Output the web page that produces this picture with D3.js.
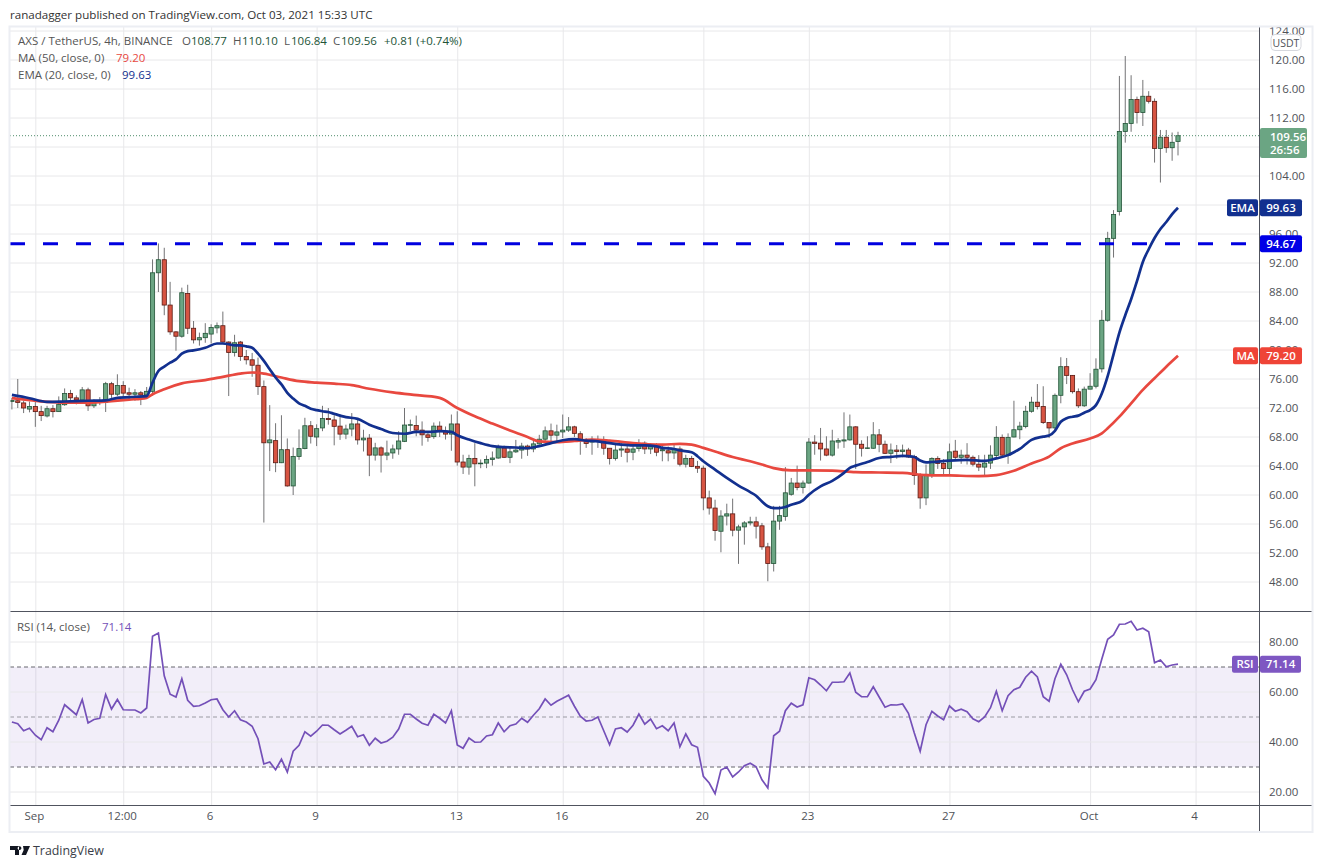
<!DOCTYPE html>
<html><head><meta charset="utf-8">
<script src="https://cdnjs.cloudflare.com/ajax/libs/d3/7.8.5/d3.min.js"></script>
<style>
html,body{margin:0;padding:0;background:#fff;overflow:hidden}
svg{display:block}
text{font-family:"Open Sans","Noto Sans",sans-serif}
</style></head><body>
<svg id="c" width="1323" height="868"></svg>
<script>
const open=[72.9,73,72.7,71.85,72.2,71.5,70.9,71.9,71.5,72.45,
74,73.4,73.1,74.5,72.3,72.9,72.75,75.35,73.9,75.1,
74.1,73.9,74.1,73.8,74.3,90.65,92.45,86.2,82.5,81.9,
87.8,83,81.4,81.7,82.2,83.05,83.35,81.1,79.65,81.1,
79.1,78.65,77.9,74.95,67.2,67.5,64.45,66.25,61.25,65.3,
66.4,69.55,68,69.25,70.55,70.35,69.5,68.4,69.1,69.8,
67.6,67.85,65.5,66.5,65.5,65.8,66.35,67.4,69.65,69.6,
68.95,68.3,68.05,69.5,68.8,68.4,69.8,64.55,63.85,65.05,
64.3,64.4,64.9,65.1,66.5,65.2,65.95,66.2,66.75,66.35,
67.05,67.7,68.85,68.25,68.7,68.95,69.4,68.45,67.55,67.3,
67.45,67.45,66.45,65.05,66.2,66.35,65.9,66.4,67.15,66.35,
66.75,66.1,66.1,65.8,66.35,64.25,65.05,63.95,63.7,59.6,
58.2,55,57.1,57.4,55.15,55.6,56.15,56.3,55.75,52.85,
50.55,56.4,57.05,60.1,61.65,61.05,61.65,67.3,67.15,66.35,
65.5,67.3,67.45,67.6,69.4,67,66.45,66.45,68.3,67,
65.75,66.2,66,66.2,65.3,62.75,59.6,62.85,65.05,64.35,
63.65,66.05,65.2,65.5,65.2,64.25,63.85,64.4,65.45,67.95,
65.5,68,69,69.45,71.55,72.8,72.2,70,69.25,73.75,
77.7,76.5,74.25,72.3,74.6,75,77.4,84.1,95.4,99.1,
110.15,111.25,114.55,112.75,115,114.3,107.8,109.35,107.9,108.77];
const close=[73.05,72.75,72,72.2,71.5,70.95,71.9,71.5,72.5,74,
73.4,73.1,74.5,72.3,72.75,73,75.35,73.9,75.1,74.05,
73.9,74.1,73.8,74.3,90.65,92.45,86.2,82.5,81.9,87.9,
83,81.4,81.7,82.3,83.1,83.35,81.1,79.65,81,79.1,
78.65,77.9,74.95,67.2,67.6,64.45,66.25,61.25,65.3,66.4,
69.55,68.1,69.15,70.55,70.4,69.47,68.4,69.1,69.8,67.6,
67.85,65.5,66.5,65.5,65.8,66.35,67.45,69.65,69.7,68.95,
68.3,67.95,69.5,68.8,68.4,69.8,64.55,63.85,65.05,64.3,
64.4,64.9,65.1,66.5,65.2,65.95,66.2,66.75,66.35,67.05,
67.7,68.85,68.25,68.7,68.95,69.4,68.5,67.55,67.1,67.45,
67.4,66.45,65.05,66.2,66.35,65.9,66.35,67.1,66.35,66.75,
65.9,66.25,65.8,66.35,64.25,65.05,63.95,63.7,59.6,58.2,
55.1,57.1,57.4,55.15,55.6,56.15,56.3,55.7,52.85,50.55,
56.4,57.15,60.3,61.65,61.05,61.65,67.3,67.1,66.35,65.5,
67.45,67.5,67.6,69.4,67,66.45,66.5,68.3,67,65.75,
66.2,66,66.2,65.25,62.7,59.6,62.85,65.05,64.35,63.65,
65.95,65.2,65.5,65.2,64.25,63.85,64.4,65.5,67.95,65.5,
67.95,69,69.5,71.55,72.8,72.2,70,69.25,73.75,77.7,
76.5,74.25,72.3,74.6,75,77.35,84.1,95.4,98.7,110.15,
111.25,114.55,112.75,115,114.3,107.8,109.35,107.9,108.65,109.56];
const high=[73.4,76,73,72.9,72.85,72.3,72.3,72.4,73.6,74.7,
74.5,73.75,74.9,74.8,73.2,73.5,75.6,75.6,76.65,75.7,
74.8,74.6,74.35,74.9,92.5,94.7,94.1,89.4,82.6,88.6,
89,84,82.4,83.7,83.55,83.8,85.3,81.2,82.1,81.25,
80,79.6,78.95,75.8,72.4,69.9,71,67.8,66.55,69.05,
70.65,70.2,69.75,72.3,72,71.1,71.1,69.7,71.3,70.4,
69,68.4,67.2,66.7,67.5,66.95,68.8,72,70.4,70.95,
70.15,68.55,70,70.15,69.45,71.1,71.55,65.55,65.55,67.15,
64.9,65.45,66,66.95,66.8,66.7,67.6,67.2,66.95,67.6,
68.3,69.45,69.85,69.7,71.1,70.75,69.55,68.8,67.85,68.1,
68.2,68.1,66.45,67,67.2,67,66.95,67.7,67.4,67.15,
67.15,66.95,66.7,66.95,66.7,65.55,65.4,64.7,64.05,60.6,
59.35,57.9,58.8,59.5,55.9,56.4,57,57,56.15,53.4,
58.5,58.5,63.85,62.35,64.05,62,67.85,68.25,69.25,68.1,
69,67.85,71.4,71.1,69.5,67.55,68.1,70.05,69.1,67.5,
67.1,66.9,66.95,66.5,65.55,63,64.2,65.2,65.35,64.95,
67.1,67.6,66.25,67.15,65.45,65.5,65.55,66.85,69.5,68.35,
68.5,73,70.1,72.3,73.55,75.3,75,70,74,79,
78.9,76.55,74.7,74.95,76.8,78.85,85.5,96.3,99.3,117.8,
120.55,117.9,114.95,117.25,115.7,114.7,110.35,110.35,110,110.1];
const low=[71.8,72,71.3,71.4,69.4,70.2,70.7,70.7,71.5,72.3,
73,72.5,73,71.6,72,72.4,71.45,73.4,73.65,73.4,
73.2,73,72.4,73.4,73.7,88,84.8,82.1,79.9,81.7,
82.2,80.9,80.6,81,80.9,82.3,80.9,73.65,79.1,78.5,
78,76.3,73.8,56.2,63.3,63.15,64.4,61.15,60,64.85,
66.3,67.1,66.75,68.8,69.7,66.85,67.6,67.7,68.1,66.95,
66,62.6,64.75,63.1,64.8,65,65.55,67.3,68.8,68.1,
66.8,67.35,67.75,68,67.65,66.1,64.05,62.9,62.8,61.2,
63.7,63.7,64.05,65,65.1,64.4,65.8,65,65.4,65.9,
66.95,67.4,67.4,67.3,67.85,68.7,68,65.55,66.5,65.55,
66.5,65.55,64.2,64.75,65.25,64.5,64.8,66,65.65,65.65,
65.35,64.65,64.65,64.95,63.95,63.8,63.85,63.05,57.9,57.3,
53.7,52.1,55.8,54.3,50.5,53.15,55.8,54,52.45,48.1,
49.45,55.2,56.45,59.9,60.65,60.2,61.55,65.55,64.75,65.35,
65.3,66.4,66.5,67.5,63.6,65.3,66.35,66.35,65.9,65.65,
64.4,65,65.2,65.1,61.4,58.1,58.6,62.35,63.6,62.8,
62.8,64.95,64.3,64.2,63.95,63.3,62.6,63.6,65.2,65.2,
64.3,67.95,67.7,69.2,71.35,71.8,69.8,67.85,68.9,72.65,
75.3,74,72,72.15,74.6,74.7,76.9,83.9,92.75,98.55,
108.6,110.1,111.25,110.9,114,105.85,103.1,107.2,106.1,106.84];

const emaBars=[0,3,6,9,13,16,18,21,23,24,25,26,27,28,29,30,31,33,35,36,37,38,39,40,41,42,43,44,45,46,47,48,49,50,51,52,53,54,
55,57,59,61,63,65,67,69,71,73,75,76,78,80,82,84,86,88,90,92,94,96,98,100,102,104,106,108,110,
111,113,114,116,117,118,120,122,124,126,127,128,129,130,131,132,133,135,136,138,140,142,143,144,146,148,150,152,153,154,155,156,157,160,163,
166,168,170,171,172,173,174,176,177,178,179,180,181,182,183,184,185,186,187,188,189,190,191,192,193,194,195,196,197,198,199];
const emaValues=[73.8,73.35,72.85,72.9,73,73.05,73.4,73.55,73.65,75.5,77.1,77.7,78.25,78.7,79.5,79.85,79.95,80.3,80.9,80.9,80.8,80.65,80.65,80.5,80.3,79.5,78.5,77.35,76.2,75.25,74.1,73.3,72.65,72.3,71.9,71.7,71.55,71.45,
71.2,70.75,70.5,69.7,69.1,68.55,68.45,68.7,68.7,68.8,68.7,68.25,67.65,67.15,66.75,66.6,66.55,66.45,66.75,67.15,67.55,67.7,67.5,67.4,67.15,66.95,66.85,66.85,66.7,
66.5,66.35,66.15,65.9,65.35,64.65,63.5,62.35,61.3,60.4,59.9,59.1,58.45,58.2,58.2,58.35,58.65,59.25,60.05,61.2,61.95,63.05,63.75,64.05,64.55,65.1,65.25,65.4,65.35,65.25,64.75,64.5,64.55,64.75,64.85,
64.7,65.05,65.5,65.9,66.35,67,67.6,68.05,68.2,68.85,70.1,70.6,70.8,70.95,71.35,71.7,72.4,74,76.4,79.4,82.4,84.8,87,89.5,92.15,93.9,95.45,96.7,97.65,98.75,99.63];

const maBars=[0,6,9,13,17,20,23,24,26,29,33,36,39,41,43,46,49,52,55,58,61,65,70,73,76,79,82,85,88,90,93,96,99,102,106,110,
111,114,116,118,120,123,126,128,130,133,136,140,144,148,152,156,160,165,168,171,174,177,179,181,184,186,187,189,191,193,195,197,199];
const maValues=[73.35,72.85,72.75,72.75,72.95,73.15,73.4,73.9,74.6,75.4,75.85,76.3,76.75,76.9,76.75,76.2,75.7,75.5,75.35,75.15,74.65,74.15,73.7,73.4,72,70.85,69.85,68.9,68,67.4,67.3,67.45,67.65,67.5,67.15,66.95,
66.95,67.05,66.95,66.5,66,65.25,64.65,64.2,63.7,63.4,63.4,63.35,63.15,63.1,63.05,62.75,62.7,62.6,62.75,63.35,64.35,65.3,66.45,67.1,67.8,68.5,69.2,70.8,72.65,74.5,76.1,77.7,79.2];

const rsi=[48,47.3,44.5,45.5,42.7,40.9,45.7,44.1,48.7,54.9,
52.9,50.9,57,47.6,49,49.5,59,53.2,57,52.9,
52.8,52.8,51.6,53.6,82.3,83.6,66.5,59.1,58,65.3,
56.7,54.3,54.5,55.6,56.9,57.2,52.9,50,52.5,48.9,
48,46.3,41.3,31.2,32,28.9,33.1,28,36.3,38.7,
44.1,42.3,44.3,46.8,46.7,44.9,43.2,44.7,46.3,42.1,
42.9,38.7,41.5,39.6,40.3,41.9,45.2,51.1,51.1,49.2,
47.5,46.7,51.1,49.5,47.6,52.5,38.8,37.5,41.6,39.9,
40,42.4,42.9,47.6,44.1,46.5,47.2,49.5,47.9,50.7,
53.3,57.2,54.7,56.3,57.5,58.7,54.3,50.3,48.4,48.7,
50,44.5,38.9,45.2,45.7,44,46.7,51.2,47.1,49.2,
45.3,46.5,44.5,47.6,38.1,43.2,38.9,37.9,26.3,23.6,
19.3,28.8,30,26,28,30.5,31.5,30.1,24.9,21.6,
42.5,44.3,52.5,55.5,54,54.9,65.7,64.9,62.8,60.5,
63.9,63.9,64.1,67.6,59.9,58.1,58.1,62.1,58,53.9,
54.9,54.8,55.2,51.5,43.6,36.3,46.9,52.3,50.4,48.9,
54.4,52.3,53.1,52.1,49.3,48.1,50,53.7,60.3,52.5,
58.5,60.9,61.9,65.9,68.3,66,58.1,56.3,65.3,71.1,
66.9,60.9,56.1,60.3,61.2,64.9,73.2,81.1,82.8,87.1,
87.2,88.3,84.8,85.5,84.1,71.7,72.8,70.1,70.8,71.14];

const priceTicks=[48,52,56,60,64,68,72,76,80,84,88,92,96,100,104,108,112,116,120,124];
const priceLabelTicks=priceTicks.filter(d=>d!==100&&d!==108);
const rsiTicks=[20,40,60,80];
const rsiLevels=[70,50,30];
const timeBars=[4,19,34,52,76,94,118,136,160,184,202];
const timeLabels=["Sep","12:00","6","9","13","16","20","23","27","Oct","4"];
const support=94.67, lastPrice=109.56;

const L=10,R=1259,FR=1312,TOP=27,PB=611,RT=611,RB=805,FB=832;
const grid="#e8e8ea", txt="#4f5258", axisC="#50535e";
const x=d3.scaleLinear().domain([0,199]).range([11.9,1178]);
const y=d3.scaleLinear().domain([48,120]).range([582,60]);
const yr=d3.scaleLinear().domain([20,80]).range([792,642]);
const svg=d3.select("#c");
const data=d3.range(close.length).map(i=>({i,o:open[i],h:high[i],l:low[i],c:close[i]}));

svg.append("text").attr("x",10).attr("y",19).attr("font-size",11.6).attr("fill","#333").text("ranadagger published on TradingView.com, Oct 03, 2021 15:33 UTC");

// vertical grid with time labels
const xAxis=d3.axisBottom(x).tickValues(timeBars).tickFormat((d,i)=>timeLabels[i]).tickSize(RB-TOP).tickPadding(7);
const gx=svg.append("g").attr("transform",`translate(0,${TOP})`).call(xAxis);
gx.select(".domain").remove();
gx.selectAll("line").attr("stroke",grid);
gx.selectAll("text").attr("fill",txt).attr("font-size",11.5).attr("font-family",'"Open Sans"').attr("dx",-1.5);

// price grid
const yAxis=d3.axisRight(y).tickValues(priceLabelTicks).tickFormat(d3.format(".2f")).tickSize(0).tickPadding(10);
const gy=svg.append("g").attr("transform",`translate(${R},0)`).call(yAxis);
gy.select(".domain").remove();
gy.selectAll("text").attr("fill",txt).attr("font-size",11.5).attr("font-family",'"Open Sans"');
svg.append("g").selectAll("line").data(priceTicks).join("line")
 .attr("x1",L).attr("x2",R).attr("y1",d=>y(d)).attr("y2",d=>y(d)).attr("stroke",grid);

// candles
const gc=svg.append("g");
gc.selectAll(".w").data(data).join("line").attr("class","w")
 .attr("x1",d=>x(d.i)).attr("x2",d=>x(d.i)).attr("y1",d=>y(d.h)).attr("y2",d=>y(d.l))
 .attr("stroke","#737375").attr("stroke-width",1);
gc.selectAll(".b").data(data).join("rect").attr("class","b")
 .attr("x",d=>x(d.i)-2.1).attr("width",4.2)
 .attr("y",d=>y(Math.max(d.o,d.c))).attr("height",d=>Math.max(0.6,Math.abs(y(d.o)-y(d.c))))
 .attr("fill",d=>d.c>=d.o?"#6ba583":"#d75442")
 .attr("stroke",d=>d.c>=d.o?"#225437":"#5b1a13").attr("stroke-width",.8);

// support, last price line
svg.append("line").attr("x1",L).attr("x2",R-13).attr("y1",y(support)).attr("y2",y(support))
 .attr("stroke","#0000e0").attr("stroke-width",3).attr("stroke-dasharray","15 18");
svg.append("line").attr("x1",L).attr("x2",R).attr("y1",y(lastPrice)).attr("y2",y(lastPrice))
 .attr("stroke","#4f8d6c").attr("stroke-dasharray","1 2");

// moving averages
const lineP=d3.line().x(d=>x(d[0])).y(d=>y(d[1])).curve(d3.curveMonotoneX);
svg.append("path").attr("d",lineP(d3.zip(maBars,maValues))).attr("fill","none").attr("stroke","#e8483f").attr("stroke-width",2.7);
svg.append("path").attr("d",lineP(d3.zip(emaBars,emaValues))).attr("fill","none").attr("stroke","#12308f").attr("stroke-width",2.7);

// RSI pane
svg.append("rect").attr("x",L).attr("width",R-L).attr("y",yr(70)).attr("height",yr(30)-yr(70)).attr("fill","#7e57c2").attr("fill-opacity",.1);
const gyr=svg.append("g").attr("transform",`translate(${R},0)`).call(d3.axisRight(yr).tickValues(rsiTicks).tickFormat(d3.format(".2f")).tickSize(0).tickPadding(10));
gyr.select(".domain").remove();
gyr.selectAll("text").attr("fill",txt).attr("font-size",11.5).attr("font-family",'"Open Sans"');
svg.append("g").selectAll("line").data(rsiTicks).join("line")
 .attr("x1",L).attr("x2",R).attr("y1",d=>yr(d)).attr("y2",d=>yr(d)).attr("stroke",grid);
svg.append("g").selectAll("line").data(rsiLevels).join("line")
 .attr("x1",L).attr("x2",R).attr("y1",d=>yr(d)).attr("y2",d=>yr(d))
 .attr("stroke",d=>d===50?"#9a9aa2":"#66666e").attr("stroke-dasharray","4 3");
svg.append("path").attr("d",d3.line().x((d,i)=>x(i)).y(d=>yr(d))(rsi)).attr("fill","none").attr("stroke","#7450b8").attr("stroke-width",1.7);

// pane lines and frame
svg.append("line").attr("x1",L).attr("x2",FR).attr("y1",RT+.5).attr("y2",RT+.5).attr("stroke",axisC).attr("stroke-width",1);
svg.append("line").attr("x1",L).attr("x2",FR).attr("y1",RB+.5).attr("y2",RB+.5).attr("stroke",axisC).attr("stroke-width",1);
svg.append("line").attr("x1",R+.5).attr("x2",R+.5).attr("y1",TOP).attr("y2",FB).attr("stroke",axisC).attr("stroke-width",1);
svg.append("rect").attr("x",9.5).attr("y",26.5).attr("width",FR-9).attr("height",FB-26.5).attr("fill","none").attr("stroke","#eceef3").attr("stroke-width",2);

// legend
function t(px,py,s,c,fs,w,a){return svg.append("text").attr("x",px).attr("y",py).attr("font-size",fs||11.5).attr("fill",c||"#555").attr("font-weight",w||400).attr("text-anchor",a||"start").text(s);}
t(18,45,"AXS / TetherUS, 4h, BINANCE");
t(182,45,"O");t(191,45,"108.77","#225437");
t(233,45,"H");t(242,45,"110.10","#225437");
t(284,45,"L");t(291,45,"106.84","#225437");
t(333,45,"C");t(341,45,"109.56","#225437");
t(384,45,"+0.81 (+0.74%)","#225437");
t(18,62,"MA (50, close, 0)");t(116,62,"79.20","#e8483f");
t(18,79,"EMA (20, close, 0)");t(122,79,"99.63","#12308f");
t(17,631,"RSI (14, close)");t(102,631,"71.14","#7450b8");

// USDT box
svg.append("rect").attr("x",1271).attr("y",34.5).attr("width",30).attr("height",16).attr("rx",4).attr("fill","#fff").attr("stroke","#d6d8de");
t(1286,46.5,"USDT",txt,10.5,400,"middle");

// axis tags
function tag(x0,x1,py,h,fill,s,w){
 svg.append("rect").attr("x",x0).attr("y",py-h/2).attr("width",x1-x0).attr("height",h).attr("rx",2).attr("fill",fill);
 t((x0+x1)/2,py+4,s,"#fff",11.5,w||600,"middle");
}
tag(1260,1302,y(99.63),17,"#12308f","99.63");
tag(1227,1258,y(99.63),17,"#12308f","EMA");
tag(1260,1302,y(79.2),17,"#ef4437","79.20");
tag(1233,1258,y(79.2),17,"#ef4437","MA");
tag(1260,1302,y(support),17,"#0000e6","94.67");
tag(1260,1301,yr(71.14),17,"#7e57c2","71.14");
tag(1232,1258,yr(71.14),17,"#7e57c2","RSI");
svg.append("rect").attr("x",1260).attr("y",128).attr("width",47).attr("height",30).attr("rx",2).attr("fill","#6ba583");
t(1270,141,"109.56","#fff",11.5,600);
t(1270,154,"26:56","#fff",11.5,600);

// TradingView mark
svg.append("path").attr("d","M10 846h9v9h-4v-5h-5zM23 846h7l-4 9h-4.5l2.2-5zM19.5 846.2a1.9 1.9 0 1 0 .01 0z").attr("fill","#131722");
t(33,855,"TradingView","#3a3e48",12.4);
</script>
</body></html>
